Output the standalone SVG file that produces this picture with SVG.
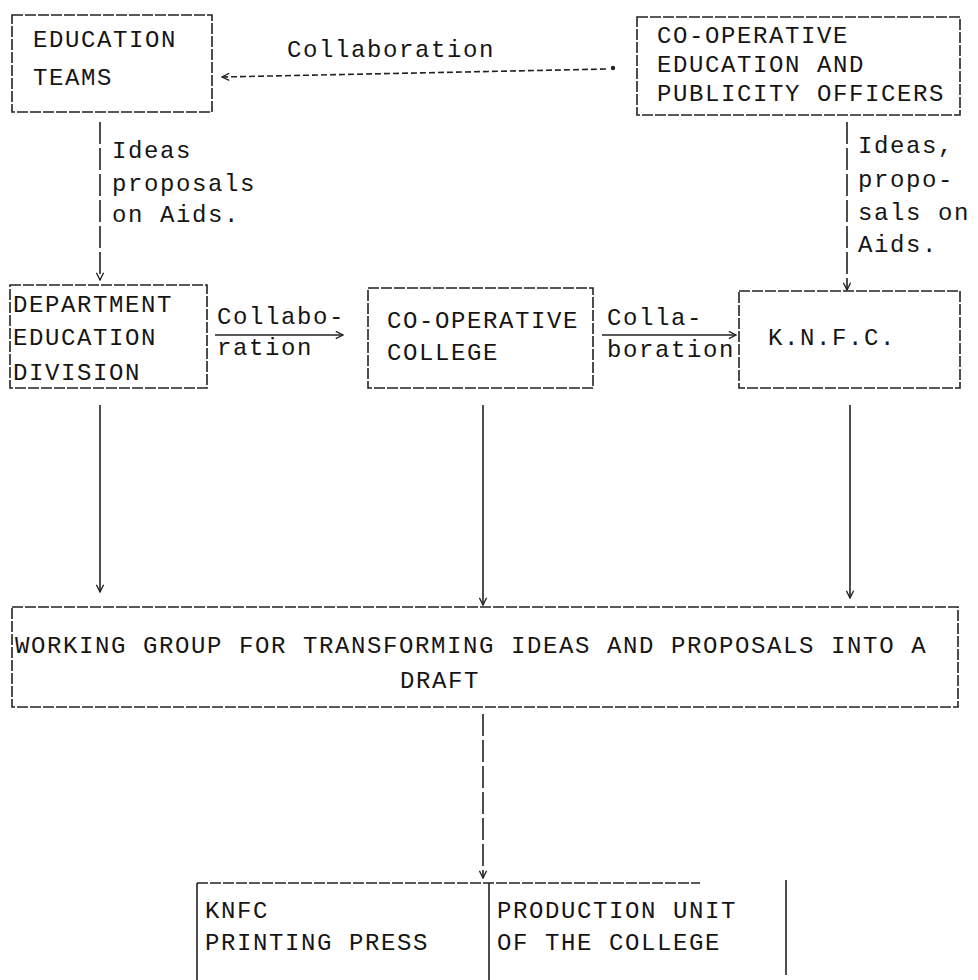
<svg xmlns="http://www.w3.org/2000/svg" width="978" height="980" viewBox="0 0 978 980">
<style>
.t{font-family:"Liberation Mono","DejaVu Sans Mono",monospace;font-size:24px;letter-spacing:1.6px;fill:#151515}
.box{fill:none;stroke:#222;stroke-width:1.6;stroke-dasharray:11 2}
.ln{fill:none;stroke:#222;stroke-width:1.6}
.v{stroke-dasharray:22 4}
.dot{stroke-dasharray:6 3}
</style>
<defs>
<marker id="ah" viewBox="0 0 10 10" refX="9" refY="5" markerWidth="9" markerHeight="9" orient="auto-start-reverse" markerUnits="userSpaceOnUse">
<path d="M1,1 L9,5 L1,9" fill="none" stroke="#222" stroke-width="1.5"/>
</marker>
</defs>
<rect width="978" height="980" fill="#fff"/>

<g id="connectors">
<path class="ln dot" d="M222,77 L608,69" marker-start="url(#ah)"/>
<circle cx="613" cy="68" r="2.2" fill="#222"/>
<path class="ln v" d="M100,122 L100,280" marker-end="url(#ah)"/>
<path class="ln v" d="M847,122 L847,290" marker-end="url(#ah)"/>
<path class="ln" d="M215,335 L343,335" marker-end="url(#ah)"/>
<path class="ln" d="M602,335 L736,335" marker-end="url(#ah)"/>
<path class="ln" d="M100,405 L100,592" marker-end="url(#ah)"/>
<path class="ln" d="M483,405 L483,605" marker-end="url(#ah)"/>
<path class="ln" d="M850,405 L850,598" marker-end="url(#ah)"/>
<path class="ln v" d="M483,714 L483,878" marker-end="url(#ah)"/>
</g>

<g id="label-collab-top"><text class="t" x="287" y="57">Collaboration</text></g>
<g id="label-ideas-left">
<text class="t" x="112" y="158">Ideas</text>
<text class="t" x="112" y="191">proposals</text>
<text class="t" x="112" y="222">on Aids.</text>
</g>
<g id="label-ideas-right">
<text class="t" x="858" y="153">Ideas,</text>
<text class="t" x="858" y="187">propo-</text>
<text class="t" x="858" y="220">sals on</text>
<text class="t" x="858" y="252">Aids.</text>
</g>
<g id="label-collab-left">
<text class="t" x="217" y="324">Collabo-</text>
<text class="t" x="217" y="355">ration</text>
</g>
<g id="label-collab-right">
<text class="t" x="607" y="325">Colla-</text>
<text class="t" x="607" y="357">boration</text>
</g>

<g id="education-teams">
<rect class="box" x="12" y="15" width="200" height="97"/>
<text class="t" x="33" y="47">EDUCATION</text>
<text class="t" x="33" y="85">TEAMS</text>
</g>
<g id="coop-officers">
<rect class="box" x="637" y="17" width="323" height="98"/>
<text class="t" x="657" y="43">CO-OPERATIVE</text>
<text class="t" x="657" y="72">EDUCATION AND</text>
<text class="t" x="657" y="101">PUBLICITY OFFICERS</text>
</g>
<g id="department">
<rect class="box" x="10" y="285" width="197" height="103"/>
<text class="t" x="13" y="312">DEPARTMENT</text>
<text class="t" x="13" y="345">EDUCATION</text>
<text class="t" x="13" y="380">DIVISION</text>
</g>
<g id="coop-college">
<rect class="box" x="368" y="288" width="225" height="100"/>
<text class="t" x="387" y="328">CO-OPERATIVE</text>
<text class="t" x="387" y="360">COLLEGE</text>
</g>
<g id="knfc">
<rect class="box" x="739" y="291" width="221" height="97"/>
<text class="t" x="768" y="345">K.N.F.C.</text>
</g>
<g id="working-group">
<rect class="box" x="12" y="607" width="946" height="100"/>
<text class="t" x="15" y="653">WORKING GROUP FOR TRANSFORMING IDEAS AND PROPOSALS INTO A</text>
<text class="t" x="400" y="688">DRAFT</text>
</g>
<g id="bottom-units">
<path class="ln" d="M197,883 L700,883" stroke-dasharray="11 2"/>
<path class="ln" d="M197,883 L197,980"/>
<path class="ln" d="M489,883 L489,980"/>
<path class="ln" d="M786,880 L786,975"/>
<text class="t" x="205" y="918">KNFC</text>
<text class="t" x="205" y="950">PRINTING PRESS</text>
<text class="t" x="497" y="918">PRODUCTION UNIT</text>
<text class="t" x="497" y="950">OF THE COLLEGE</text>
</g>
</svg>
